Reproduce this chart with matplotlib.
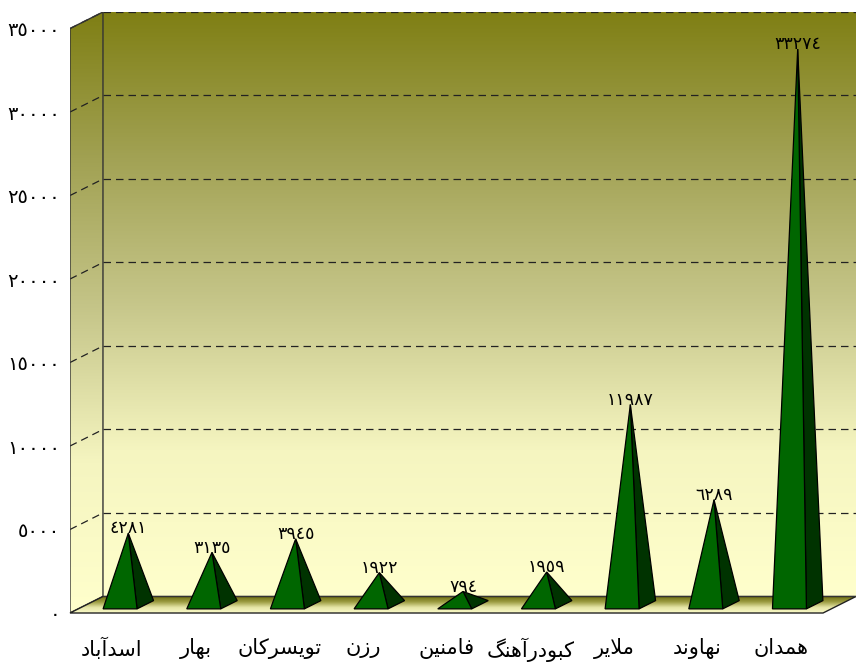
import matplotlib
matplotlib.use('Agg')
import matplotlib.pyplot as plt
import numpy as np
from matplotlib.colors import LinearSegmentedColormap
from matplotlib.patches import Polygon

# data
cities = ['اسدآباد', 'بهار', 'تویسرکان', 'رزن', 'فامنین', 'کبودرآهنگ', 'ملایر', 'نهاوند', 'همدان']
values = [4281, 3135, 3945, 1922, 794, 1959, 11987, 6289, 33274]
y_ticks = [0, 5000, 10000, 15000, 20000, 25000, 30000, 35000]

# presentation forms: isolated, final, initial, medial (None = does not join forward)
FORMS = {
    'ا': ('\uFE8D', '\uFE8E', None, None),
    'آ': ('\uFE81', '\uFE82', None, None),
    'ب': ('\uFE8F', '\uFE90', '\uFE91', '\uFE92'),
    'ت': ('\uFE95', '\uFE96', '\uFE97', '\uFE98'),
    'د': ('\uFEA9', '\uFEAA', None, None),
    'ر': ('\uFEAD', '\uFEAE', None, None),
    'ز': ('\uFEAF', '\uFEB0', None, None),
    'س': ('\uFEB1', '\uFEB2', '\uFEB3', '\uFEB4'),
    'ف': ('\uFED1', '\uFED2', '\uFED3', '\uFED4'),
    'ک': ('\uFB8E', '\uFB8F', '\uFB90', '\uFB91'),
    'گ': ('\uFB92', '\uFB93', '\uFB94', '\uFB95'),
    'ل': ('\uFEDD', '\uFEDE', '\uFEDF', '\uFEE0'),
    'م': ('\uFEE1', '\uFEE2', '\uFEE3', '\uFEE4'),
    'ن': ('\uFEE5', '\uFEE6', '\uFEE7', '\uFEE8'),
    'ه': ('\uFEE9', '\uFEEA', '\uFEEB', '\uFEEC'),
    'و': ('\uFEED', '\uFEEE', None, None),
    'ی': ('\uFBFC', '\uFBFD', '\uFBFE', '\uFBFF'),
}
LAM_ALEF = ('\uFEFB', '\uFEFC')


def shape(word):
    # matplotlib has no arabic shaping, so do it by hand and reverse for display
    word = word.replace('ي', 'ی').replace('ك', 'ک')
    chars = []
    i = 0
    while i < len(word):
        if word[i] == 'ل' and i + 1 < len(word) and word[i + 1] == 'ا':
            chars.append('لا')
            i += 2
        else:
            chars.append(word[i])
            i += 1

    def joins_fwd(c):
        return c in FORMS and FORMS[c][2] is not None

    out = []
    for k, c in enumerate(chars):
        prev = chars[k - 1] if k > 0 else None
        nxt = chars[k + 1] if k + 1 < len(chars) else None
        jp = prev is not None and joins_fwd(prev)
        jn = nxt is not None and joins_fwd(c)
        if c == 'لا':
            out.append(LAM_ALEF[1] if jp else LAM_ALEF[0])
            continue
        f = FORMS[c]
        if jp and jn:
            out.append(f[3])
        elif jp:
            out.append(f[1])
        elif jn:
            out.append(f[2])
        else:
            out.append(f[0])
    return ''.join(reversed(out))


def ar_digits(n):
    return str(n).translate(str.maketrans('0123456789', '٠١٢٣٤٥٦٧٨٩'))


plt.rcParams['font.family'] = ['DejaVu Sans']

YTOP = 35000
DX = 0.394          # depth offset in category units
DY = 990            # depth offset in value units
HW = 0.203          # half width of pyramid base
D0, D1 = 0.25, 0.75

fig = plt.figure(figsize=(8.56, 6.69), dpi=100)
ax = fig.add_axes([70 / 856, (669 - 613) / 669, 786 / 856, 601 / 669])
ax.set_xlim(-0.5, 8.5 + DX)
ax.set_ylim(0, YTOP + DY)

cmap = LinearSegmentedColormap.from_list('wall', [(0, '#FFFFCC'), (0.25, '#F5F5C0'), (0.5, '#C6C68A'),
                                                  (0.75, '#A2A254'), (1, '#7F7F14')])
grad = np.linspace(0, 1, 256).reshape(-1, 1)

# back wall
back = Polygon([(-0.5 + DX, DY), (8.5 + DX, DY), (8.5 + DX, YTOP + DY), (-0.5 + DX, YTOP + DY)],
               closed=True, facecolor='none', edgecolor='none')
ax.add_patch(back)
im = ax.imshow(grad, cmap=cmap, origin='lower', aspect='auto',
               extent=[-0.5 + DX, 8.5 + DX, DY, YTOP + DY], zorder=0)
im.set_clip_path(back)

# left wall
left = Polygon([(-0.5, 0), (-0.5 + DX, DY), (-0.5 + DX, YTOP + DY), (-0.5, YTOP)],
               closed=True, facecolor='none', edgecolor='#333333', lw=1, zorder=2)
ax.add_patch(left)
im2 = ax.imshow(grad, cmap=cmap, origin='lower', aspect='auto',
                extent=[-0.5, -0.5 + DX, 0, YTOP + DY], zorder=0)
im2.set_clip_path(left)

# grid lines on the back and left wall
for v in y_ticks[1:]:
    ax.plot([-0.5 + DX, 8.5 + DX], [v + DY, v + DY], color='#222222', lw=0.9,
            linestyle=(0, (6, 4)), zorder=1)
    ax.plot([-0.5, -0.5 + DX], [v, v + DY], color='#222222', lw=0.9,
            linestyle=(0, (6, 4)), zorder=1)

# floor
floor = Polygon([(-0.5, 0), (8.5, 0), (8.5 + DX, DY), (-0.5 + DX, DY)],
                closed=True, facecolor='none', edgecolor='#222222', lw=1, zorder=3, clip_on=False)
ax.add_patch(floor)
fcmap = LinearSegmentedColormap.from_list('floor', ['#FAFAC8', '#E6E6A6', '#9A9A40', '#6E6E10'])
im3 = ax.imshow(grad, cmap=fcmap, origin='lower', aspect='auto',
                extent=[-0.5, 8.5 + DX, 0, DY], zorder=2)
im3.set_clip_path(floor)
ax.plot([-0.5 + DX, 8.5 + DX], [DY, DY], color='#333333', lw=0.8, zorder=3)

# pyramids
for i, v in enumerate(values):
    fl = (i - HW + D0 * DX, D0 * DY)
    fr = (i + HW + D0 * DX, D0 * DY)
    br = (i + HW + D1 * DX, D1 * DY)
    apex = (i + 0.5 * DX, v + 0.5 * DY)
    ax.add_patch(Polygon([fr, br, apex], closed=True, facecolor='#003300',
                         edgecolor='black', lw=0.9, zorder=4))
    ax.add_patch(Polygon([fl, fr, apex], closed=True, facecolor='#006600',
                         edgecolor='black', lw=0.9, zorder=5))
    ax.annotate(ar_digits(v), apex, xytext=(0, -3), textcoords='offset points',
                ha='center', va='bottom', fontsize=12.5, zorder=6)

for s in ax.spines.values():
    s.set_visible(False)
ax.set_yticks(y_ticks)
ax.set_yticklabels([ar_digits(v) for v in y_ticks], fontsize=14)
ax.set_xticks(range(len(cities)))
ax.set_xticklabels([shape(c) for c in cities], fontsize=15)
ax.tick_params(axis='y', length=0, pad=7)
ax.tick_params(axis='x', length=0, pad=18)

fig.savefig('out.png', dpi=100)
